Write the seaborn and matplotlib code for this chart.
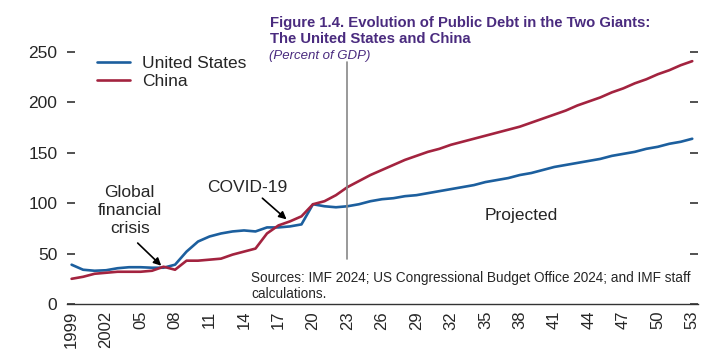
import numpy as np
import pandas as pd
import matplotlib
matplotlib.use("Agg")
import matplotlib.pyplot as plt
import seaborn as sns

years = list(range(1999, 2054))

us_debt = [39, 34, 33, 33.5, 35.5, 36.5, 36.5, 36, 36, 39,
           52, 62, 67, 70, 72, 73, 72, 76, 76, 77,
           79, 99, 97, 96, 97, 99, 102, 104, 105, 107,
           108, 110, 112, 114, 116, 118, 121, 123, 125, 128,
           130, 133, 136, 138, 140, 142, 144, 147, 149, 151,
           154, 156, 159, 161, 164]

china_debt = [25, 27, 30, 31, 32, 32, 32, 33, 37, 34,
              43, 43, 44, 45, 49, 52, 55, 70, 78, 82,
              87, 99, 102, 108, 116, 122, 128, 133, 138, 143,
              147, 151, 154, 158, 161, 164, 167, 170, 173, 176,
              180, 184, 188, 192, 197, 201, 205, 210, 214, 219,
              223, 228, 232, 237, 241]

x_ticks = list(range(1999, 2054, 3))
x_labels = ["1999", "2002", "05", "08", "11", "14", "17", "20", "23", "26",
            "29", "32", "35", "38", "41", "44", "47", "50", "53"]
y_ticks = [0, 50, 100, 150, 200, 250]

df = pd.DataFrame({
    "year": years * 2,
    "debt": us_debt + china_debt,
    "country": ["United States"] * len(years) + ["China"] * len(years),
})

sns.set_theme(style="white")
plt.rcParams["font.family"] = ["Liberation Sans", "DejaVu Sans"]

palette = {"United States": "#1c5f9e", "China": "#a3233f"}
purple = "#4a2b7f"

fig = plt.figure(figsize=(7.26, 3.52), dpi=100)
ax = fig.add_axes([67 / 726, 48 / 352, (698 - 67) / 726, (304 - 40) / 352])

sns.lineplot(data=df, x="year", y="debt", hue="country", palette=palette,
             linewidth=1.9, ax=ax, legend=False)

ax.set_xlim(1998.6, 2053.5)
ax.set_ylim(0, 262)
ax.set_xlabel("")
ax.set_ylabel("")

ax.set_xticks(x_ticks)
ax.set_xticklabels(x_labels, rotation=90, fontsize=12)
ax.set_yticks(y_ticks)
ax.set_yticklabels([str(v) for v in y_ticks], fontsize=12.5)
ax.tick_params(axis="x", direction="in", length=5, width=1, color="#333333", pad=5)
ax.tick_params(axis="y", direction="in", length=6, width=1.2, color="#333333",
               pad=7, left=True, right=True)

for side in ["top", "left", "right"]:
    ax.spines[side].set_visible(False)
ax.spines["bottom"].set_color("#333333")
ax.spines["bottom"].set_linewidth(1)

# projection divider
ax.axvline(2023, ymin=0.172, ymax=0.916, color="#888888", linewidth=1.2)

# legend
handles = [plt.Line2D([], [], color=palette[k], linewidth=1.9) for k in ["United States", "China"]]
ax.legend(handles, ["United States", "China"], loc="upper left",
          bbox_to_anchor=(0.048, 0.94), frameon=False, fontsize=12.5,
          handlelength=1.9, handletextpad=0.7, labelspacing=0.15,
          borderaxespad=0, borderpad=0)

ax.text(2038.1, 88, "Projected", fontsize=12.5, ha="center", va="center")

ax.text(2004.05, 93, "Global\nfinancial\ncrisis", fontsize=12.5, ha="center", va="center",
        linespacing=1.25)
ax.annotate("", xy=(2006.8, 38), xytext=(2004.75, 60.5),
            arrowprops=dict(arrowstyle="-|>", color="black", lw=1.2,
                            shrinkA=0, shrinkB=0, mutation_scale=11))
ax.text(2014.3, 116, "COVID-19", fontsize=12.5, ha="center", va="center")
ax.annotate("", xy=(2017.7, 84), xytext=(2015.6, 105),
            arrowprops=dict(arrowstyle="-|>", color="black", lw=1.2,
                            shrinkA=0, shrinkB=0, mutation_scale=11))

ax.text(2014.6, 18, "Sources: IMF 2024; US Congressional Budget Office 2024; and IMF staff\ncalculations.",
        fontsize=9.8, ha="left", va="center", linespacing=1.15)

fig.text(270 / 726, 1 - 16 / 352,
         "Figure 1.4. Evolution of Public Debt in the Two Giants:\nThe United States and China",
         fontsize=10.7, fontweight="bold", color=purple, ha="left", va="top",
         linespacing=1.15)
fig.text(269 / 726, 1 - 56 / 352, "(Percent of GDP)", fontsize=9.5, style="italic",
         color=purple, ha="left", va="center")

fig.savefig("out.png", dpi=100)
